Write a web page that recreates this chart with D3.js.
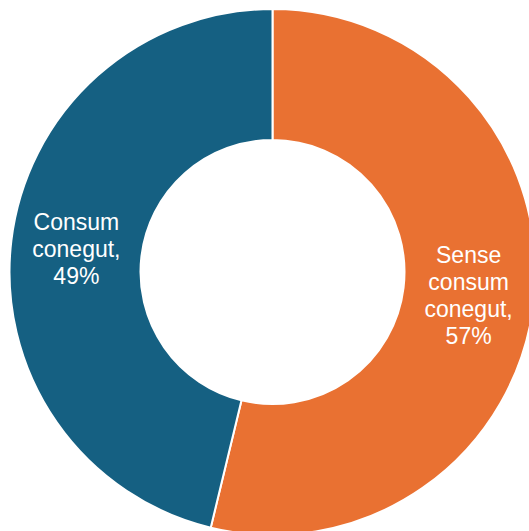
<!DOCTYPE html>
<html>
<head>
<meta charset="utf-8">
<script src="https://cdn.jsdelivr.net/npm/d3@7"></script>
<style>
 body { margin: 0; background: #fff; }
 svg { display: block; }
</style>
</head>
<body>
<svg width="529" height="531"></svg>
<script>
// Data.

var categories = ['Sense consum conegut', 'Consum conegut'];
var values = [57, 49];
var labelLines = [['Sense', 'consum', 'conegut,', '57%'], ['Consum', 'conegut,', '49%']];

var svg = d3.select('svg');
var cx = 272.5, cy = 272;
var outerR = 263, innerR = 132;
var graphic = svg.append('g').attr('transform', 'translate(' + cx + ',' + cy + ')');

var z = d3.scaleOrdinal()
 .domain(categories)
 .range(['#E97132', '#156082']);

var pie = d3.pie().sort(null).value(function(d) { return d; });
var arc = d3.arc().innerRadius(innerR).outerRadius(outerR);

var slices = pie(values);

// Draw the slices.

graphic.selectAll('path')
 .data(slices)
 .enter().append('path')
 .attr('d', arc)
 .attr('fill', function(d, i) { return z(categories[i]); })
 .attr('stroke', '#fff')
 .attr('stroke-width', 2);

// Labels at slice centroids.

var lineH = 27;
var labels = graphic.selectAll('text.label')
 .data(slices)
 .enter().append('text')
 .attr('class', 'label')
 .attr('text-anchor', 'middle')
 .attr('fill', '#fff')
 .style('font-family', 'Liberation Sans, Arial, sans-serif')
 .style('font-size', '23px')
 .attr('transform', function(d) { return 'translate(' + arc.centroid(d) + ')'; });

labels.each(function(d, i) {
 var lines = labelLines[i];
 var t = d3.select(this);
 lines.forEach(function(s, j) {
  t.append('tspan')
   .attr('x', 0)
   .attr('y', (j - (lines.length - 1) / 2) * lineH)
   .attr('dy', '0.35em')
   .text(s);
 });
});
</script>
</body>
</html>
